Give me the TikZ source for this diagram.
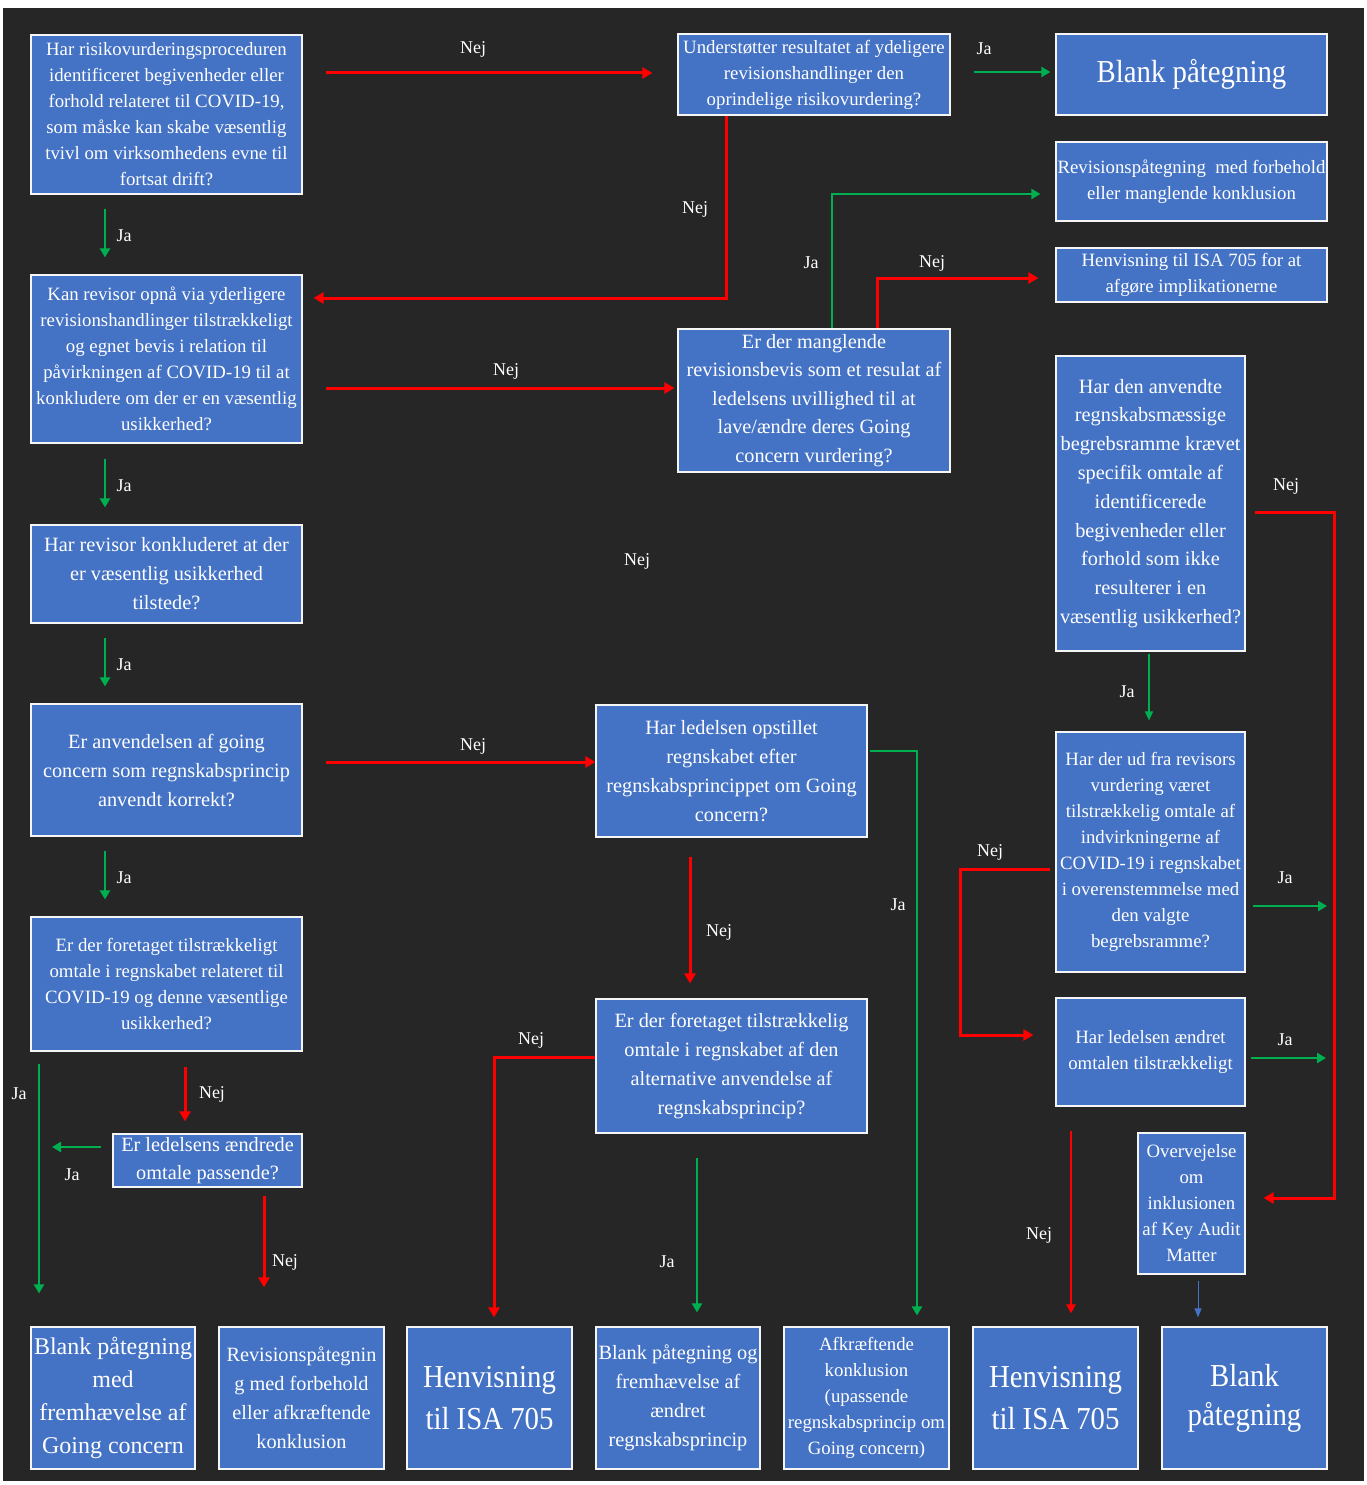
\documentclass[tikz,border=0pt]{standalone}
\usepackage{fontspec}
\setmainfont{Liberation Serif}
\newfontfamily\condfont[FakeStretch=0.9]{Liberation Serif}
\usetikzlibrary{arrows.meta}
\definecolor{bgdark}{HTML}{262626}
\definecolor{boxblue}{HTML}{4472C4}
\definecolor{nejred}{HTML}{FF0000}
\definecolor{jagreen}{HTML}{00B050}
\newcommand{\fsA}{\fontsize{18.8}{26}\selectfont}
\newcommand{\fsB}{\fontsize{20.3}{29}\selectfont}
\newcommand{\fsC}{\fontsize{24}{33}\selectfont}
\newcommand{\fsD}{\condfont\fontsize{32}{42}\selectfont}
\begin{document}
\begin{tikzpicture}[x=1pt,y=-1pt,
  box/.style={draw=white!92!gray, line width=1.2pt, fill=boxblue, text=white,
    inner sep=0pt, align=center},
  lbl/.style={text=white, font=\fontsize{18}{22}\selectfont, inner sep=0pt},
  nej/.style={draw=nejred, line width=3pt, -{Triangle[length=10pt,width=11pt]}},
  ja/.style={draw=jagreen, line width=2.6pt, -{Triangle[length=9pt,width=10pt]}},
  jathin/.style={draw=jagreen, line width=1.5pt, -{Triangle[length=9pt,width=8pt]}},
  nejthin/.style={draw=nejred, line width=2.2pt, -{Triangle[length=9pt,width=9pt]}},
  blu/.style={draw=boxblue, line width=1pt, -{Triangle[length=9pt,width=7pt]}}]
\useasboundingbox (0,0) rectangle (1367,1485);
\fill[white] (0,0) rectangle (1367,1485);
\fill[bgdark] (3,8) rectangle (1364,1481);

% left column
\node[box, minimum width=271pt, minimum height=159pt, font=\fsA] (B1) at (166.5,114.5)
 {Har risikovurderingsproceduren\\identificeret begivenheder eller\\forhold relateret til COVID-19,\\som måske kan skabe væsentlig\\tvivl om virksomhedens evne til\\fortsat drift?};
\node[box, minimum width=271pt, minimum height=168pt, font=\fsA] (B2) at (166.5,359)
 {Kan revisor opnå via yderligere\\revisionshandlinger tilstrækkeligt\\og egnet bevis i relation til\\påvirkningen af COVID-19 til at\\konkludere om der er en væsentlig\\usikkerhed?};
\node[box, minimum width=271pt, minimum height=98pt, font=\fsB] (B3) at (166.5,574)
 {Har revisor konkluderet at der\\er væsentlig usikkerhed\\tilstede?};
\node[box, minimum width=271pt, minimum height=132pt, font=\fsB] (B4) at (166.5,770)
 {Er anvendelsen af going\\concern som regnskabsprincip\\anvendt korrekt?};
\node[box, minimum width=271pt, minimum height=134pt, font=\fsA] (B5) at (166.5,984)
 {Er der foretaget tilstrækkeligt\\omtale i regnskabet relateret til\\COVID-19 og denne væsentlige\\usikkerhed?};
\node[box, minimum width=189pt, minimum height=53pt, font=\fontsize{20.3}{28}\selectfont] (B6) at (207.5,1160.5)
 {Er ledelsens ændrede\\omtale passende?};

% middle and right
\node[box, minimum width=272pt, minimum height=81pt, font=\fsA] (B7) at (814,74.5)
 {Understøtter resultatet af ydeligere\\revisionshandlinger den\\oprindelige risikovurdering?};
\node[box, minimum width=271pt, minimum height=81pt] (B8) at (1191.5,74.5)
 {\fsD\raisebox{-3pt}{Blank påtegning}};
\node[box, minimum width=271pt, minimum height=79pt, font=\fsA] (B9) at (1191.5,181.5)
 {Revisionspåtegning\ \ med forbehold\\eller manglende konklusion};
\node[box, minimum width=271pt, minimum height=54pt, font=\fsA] (B10) at (1191.5,275)
 {Henvisning til ISA 705 for at\\afgøre implikationerne};
\node[box, minimum width=272pt, minimum height=143pt, font=\fontsize{20.3}{28.5}\selectfont] (B11) at (814,400.5)
 {Er der manglende\\revisionsbevis som et resulat af\\ledelsens uvillighed til at\\lave/ændre deres Going\\concern vurdering?};
\node[box, minimum width=189pt, minimum height=295pt, font=\fontsize{20.3}{28.8}\selectfont] (B12) at (1150.5,503.5)
 {Har den anvendte\\regnskabsmæssige\\begrebsramme krævet\\specifik omtale af\\identificerede\\begivenheder eller\\forhold som ikke\\resulterer i en\\væsentlig usikkerhed?};
\node[box, minimum width=271pt, minimum height=132pt, font=\fsB] (B13) at (731.5,771)
 {Har ledelsen opstillet\\regnskabet efter\\regnskabsprincippet om Going\\concern?};
\node[box, minimum width=189pt, minimum height=240pt, font=\fsA] (B14) at (1150.5,852)
 {Har der ud fra revisors\\vurdering været\\tilstrækkelig omtale af\\indvirkningerne af\\COVID-19 i regnskabet\\i overenstemmelse med\\den valgte\\begrebsramme?};
\node[box, minimum width=271pt, minimum height=134pt, font=\fsB] (B15) at (731.5,1066)
 {Er der foretaget tilstrækkelig\\omtale i regnskabet af den\\alternative anvendelse af\\regnskabsprincip?};
\node[box, minimum width=189pt, minimum height=108pt, font=\fsA] (B16) at (1150.5,1052)
 {Har ledelsen ændret\\omtalen tilstrækkeligt};
\node[box, minimum width=107pt, minimum height=141pt, font=\fsA] (B17) at (1191.5,1203.5)
 {Overvejelse\\om\\inklusionen\\af Key Audit\\Matter};

% bottom row
\node[box, minimum width=164pt, minimum height=142pt, font=\fsC] (C1) at (113,1398)
 {Blank påtegning\\med\\fremhævelse af\\Going concern};
\node[box, minimum width=165pt, minimum height=142pt, font=\fsB] (C2) at (301.5,1398)
 {Revisionspåtegnin\\g med forbehold\\eller afkræftende\\konklusion};
\node[box, minimum width=165pt, minimum height=142pt, font=\fsD] (C3) at (489.5,1398)
 {Henvisning\\til ISA 705};
\node[box, minimum width=164pt, minimum height=142pt, font=\fsB] (C4) at (678,1398)
 {Blank påtegning og\\fremhævelse af\\ændret\\regnskabsprincip};
\node[box, minimum width=165pt, minimum height=142pt, font=\fsA] (C5) at (866.5,1398)
 {Afkræftende\\konklusion\\(upassende\\regnskabsprincip om\\Going concern)};
\node[box, minimum width=165pt, minimum height=142pt, font=\fsD] (C6) at (1055.5,1398)
 {Henvisning\\til ISA 705};
\node[box, minimum width=165pt, minimum height=142pt, font=\fsD] (C7) at (1244.5,1398)
 {\raisebox{-3pt}{Blank}\\påtegning};

% free ends
\coordinate (F1) at (1327,906);
\coordinate (F2) at (1326,1058);
\coordinate (F3) at (52,1147);

% connectors
\draw[nej] ([xshift=23pt]B1.east |- 0,73) -- ([xshift=-25pt]B7.west |- 0,73);
\draw[ja] ([yshift=-14pt]B1.south -| 105,0) -- ([yshift=17pt]B2.north -| 105,0);
\draw[nej] (B7.south -| 726,0) -- (726,298) -- ([xshift=11pt]B2.east |- 0,298);
\draw[ja] ([xshift=23pt]B7.east |- 0,72) -- ([xshift=-5pt]B8.west |- 0,72);
\draw[nej] ([xshift=23pt]B2.east |- 0,388) -- ([xshift=-3pt]B11.west |- 0,388);
\draw[ja] ([yshift=-15pt]B2.south -| 105,0) -- ([yshift=17pt]B3.north -| 105,0);
\draw[ja] (B11.north -| 832,0) -- (832,194) -- ([xshift=-15pt]B9.west |- 0,194);
\draw[nej] (B11.north -| 877,0) -- (877,278) -- ([xshift=-17pt]B10.west |- 0,278);
\draw[ja] ([yshift=-14pt]B3.south -| 105,0) -- ([yshift=17pt]B4.north -| 105,0);
\draw[nej] ([xshift=23pt]B4.east |- 0,762) -- (B13.west |- 0,762);
\draw[ja] ([yshift=-14pt]B4.south -| 105,0) -- ([yshift=17pt]B5.north -| 105,0);
\draw[ja] ([xshift=2pt]B13.east |- 0,751) -- (917,751) -- ([yshift=11pt]C5.north -| 917,0);
\draw[nej] ([yshift=-19pt]B13.south -| 690,0) -- ([yshift=15pt]B15.north -| 690,0);
\draw[nej] (B15.west |- 0,1057) -- (494,1057) -- ([yshift=9pt]C3.north -| 494,0);
\draw[ja] ([yshift=-24pt]B15.south -| 697,0) -- ([yshift=14pt]C4.north -| 697,0);
\draw[jathin] ([yshift=-2pt]B12.south -| 1149,0) -- ([yshift=11pt]B14.north -| 1149,0);
\draw[nej] ([xshift=9pt]B12.east |- 0,512) -- (1334,512) -- (1334,1198) -- ([xshift=18pt]B17.east |- 0,1198);
\draw[ja] ([xshift=7pt]B14.east |- F1) -- (F1);
\draw[nej] ([xshift=-5pt]B14.west |- 0,869) -- (960,869) -- (960,1035) -- ([xshift=-22pt]B16.west |- 0,1035);
\draw[ja] ([xshift=5pt]B16.east |- F2) -- (F2);
\draw[nejthin] ([yshift=-24pt]B16.south -| 1071,0) -- ([yshift=13pt]C6.north -| 1071,0);
\draw[blu] ([yshift=-6pt]B17.south -| 1198,0) -- ([yshift=9pt]C7.north -| 1198,0);
\draw[ja] ([yshift=-12pt]B5.south -| 39,0) -- ([yshift=33pt]C1.north -| 39,0);
\draw[nej] ([yshift=-15pt]B5.south -| 185,0) -- ([yshift=12pt]B6.north -| 185,0);
\draw[ja] ([xshift=-11pt]B6.west |- F3) -- (F3);
\draw[nej] ([yshift=-8pt]B6.south -| 264,0) -- ([yshift=39pt]C2.north -| 264,0);

% labels
\node[lbl] (l1) at (473,49) {Nej};
\node[lbl] (l2) at (124,236) {Ja};
\node[lbl] (l3) at (695,209) {Nej};
\node[lbl] (l4) at (984,49) {Ja};
\node[lbl] (l5) at (506,371) {Nej};
\node[lbl] (l6) at (124,486) {Ja};
\node[lbl] (l7) at (811,263) {Ja};
\node[lbl] (l8) at (932,263) {Nej};
\node[lbl] (l9) at (637,561) {Nej};
\node[lbl] (l10) at (124,665) {Ja};
\node[lbl] (l11) at (473,746) {Nej};
\node[lbl] (l12) at (124,878) {Ja};
\node[lbl] (l13) at (898,905) {Ja};
\node[lbl] (l14) at (719,932) {Nej};
\node[lbl] (l15) at (531,1040) {Nej};
\node[lbl] (l16) at (667,1262) {Ja};
\node[lbl] (l17) at (1127,692) {Ja};
\node[lbl] (l18) at (1286,486) {Nej};
\node[lbl] (l19) at (1285,878) {Ja};
\node[lbl] (l20) at (990,852) {Nej};
\node[lbl] (l21) at (1285,1040) {Ja};
\node[lbl] (l22) at (1039,1235) {Nej};
\node[lbl] (l23) at (19,1094) {Ja};
\node[lbl] (l24) at (212,1094) {Nej};
\node[lbl] (l25) at (72,1175) {Ja};
\node[lbl] (l26) at (285,1262) {Nej};
\end{tikzpicture}
\end{document}
